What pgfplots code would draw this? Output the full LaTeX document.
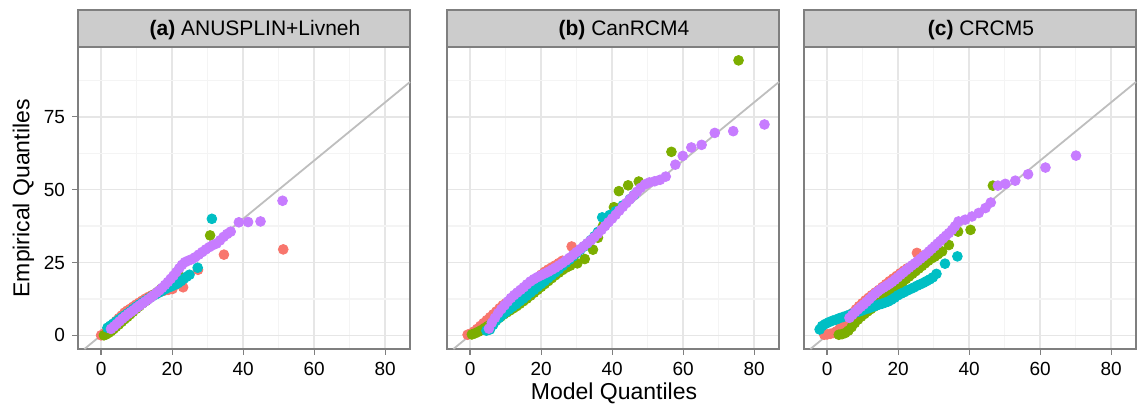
\documentclass[border=0pt]{standalone}
\usepackage{pgfplots}
\pgfplotsset{compat=1.18}
\usepackage{fontspec}
\setmainfont{Liberation Sans}

\definecolor{cr}{HTML}{F8766D}
\definecolor{cg}{HTML}{7CAE00}
\definecolor{cc}{HTML}{00BFC4}
\definecolor{cp}{HTML}{C77CFF}
\definecolor{grey50}{HTML}{7F7F7F}
\definecolor{grey80}{HTML}{CCCCCC}
\definecolor{gmaj}{HTML}{E6E6E6}
\definecolor{gmin}{HTML}{F4F4F4}
\definecolor{abline}{HTML}{BEBEBE}

\pgfplotsset{
  facet/.style={
    anchor=south west, scale only axis,
    width=166pt, height=151pt,
    xmin=-6.5, xmax=87, ymin=-4.7, ymax=99,
    xtick={0,20,40,60,80}, ytick={0,25,50,75},
    minor xtick={10,30,50,70}, minor ytick={12.5,37.5,62.5,87.5},
    grid=both,
    major grid style={gmaj, line width=0.7pt},
    minor grid style={gmin, line width=0.6pt},
    axis line style={grey50, line width=0.7pt},
    tick align=outside, xtick pos=left, ytick pos=left,
    major tick length=3pt, minor tick length=0pt,
    tick style={grey50, line width=0.6pt},
    tick label style={font=\fontsize{9.5}{10}\selectfont, black},
    /pgf/number format/assume math mode=true,
    clip=false,
  },
  pts/.style={only marks, mark=*, mark size=2.45pt, color=#1,
    mark options={draw=none, fill=#1}},
  diag/.style={no marks, color=abline, line width=0.9pt},
}

\begin{document}
\begin{tikzpicture}
\useasboundingbox (0,0) rectangle (568.5pt,203.5pt);

% (a) ANUSPLIN+Livneh
\begin{axis}[facet, at={(39pt,29pt)}]
\addplot[pts=cr] coordinates {(0,0) (0.8,0.6) (1.6,1.5) (2.5,2.6) (3.3,3.7) (4.2,4.9) (5,5.9) (5.8,6.8) (6.6,7.8) (7.4,8.5) (8.2,9.1) (9,9.8) (9.8,10.5) (10.7,11.2) (11.6,11.9) (12.5,12.6) (13.4,13.2) (14.4,13.8) (15.4,14.3) (16.5,14.8) (17.7,15.3) (18.9,15.6) (20.1,15.9) (23.1,16.5) (27.3,22.5) (34.6,27.7) (51.3,29.5)};
\addplot[pts=cg] coordinates {(0.8,0) (1.4,0.3) (2.1,0.8) (2.8,1.4) (3.5,2.1) (4.2,2.9) (5,3.7) (5.8,4.6) (6.6,5.5) (7.4,6.3) (8.2,7.2) (9,8.1) (9.9,9.1) (10.8,10) (11.7,11) (12.7,11.9) (13.7,12.9) (14.8,13.9) (15.9,14.9) (17,16) (18.2,17.1) (19.4,18.2) (20.7,19.3) (22,20.3) (30.7,34.3)};
\addplot[pts=cc] coordinates {(1.8,2.6) (2.6,3.3) (3.4,4) (4.2,4.7) (5,5.4) (5.8,6.1) (6.6,6.8) (7.4,7.5) (8.2,8.2) (9,9) (9.9,9.8) (10.8,10.6) (11.7,11.3) (12.6,12) (13.5,12.7) (14.4,13.4) (15.3,14) (16.2,14.6) (17.1,15.2) (18,15.8) (19,16.4) (20,16.9) (20.9,17.4) (21.7,17.9) (22.5,18.6) (23.3,19.4) (24.1,20.1) (24.9,20.8) (27.2,23.2) (31.2,40)};
\addplot[pts=cp] coordinates {(2.8,2.2) (3.6,3) (4.4,3.9) (5.2,4.8) (6,5.7) (6.8,6.5) (7.6,7.3) (8.4,8) (9.2,8.7) (10,9.5) (10.8,10.2) (11.6,10.9) (12.4,11.6) (13.2,12.3) (14,13) (14.8,13.8) (15.6,14.6) (16.4,15.4) (17.2,16.3) (18,17.3) (18.8,18.3) (19.6,19.4) (20.4,20.5) (21.2,21.7) (22,23) (22.8,24.2) (23.6,25.1) (24.5,25.6) (25.5,26.1) (26.5,26.8) (27.5,27.7) (28.5,28.6) (29.5,29.5) (30.5,30.3) (31.5,31) (32.5,31.5) (33.5,32.6) (34.5,33.8) (35.5,34.8) (36.5,35.6) (38.8,38.8) (41.4,38.9) (44.9,39.1) (51.1,46.2)};
\addplot[diag] coordinates {(-4.7,-4.7) (87,87)};
\end{axis}

% (b) CanRCM4
\begin{axis}[facet, at={(223.5pt,29pt)}, yticklabels={}, ytick style={draw=none}]
\addplot[pts=cr] coordinates {(-0.7,0.2) (0.2,0.6) (1.1,1.3) (2,2.2) (2.9,3.2) (3.8,4.2) (4.7,5.2) (5.6,6.2) (6.5,7.2) (7.4,8.2) (8.3,9.3) (9.2,10.3) (10.1,11) (11,11.7) (12,12.5) (13,13.4) (14,14.4) (15,15.4) (16,16.4) (17,17.5) (18,18.6) (19,19.7) (20,20.8) (21,21.8) (22,22.6) (23,23.3) (24,24) (25,24.8) (26,25.6) (28.6,30.5)};
\addplot[pts=cg] coordinates {(0.5,0.3) (1.4,0.7) (2.3,1.2) (3.2,1.8) (4.1,2.5) (5,3.2) (5.9,4) (6.8,4.8) (7.7,5.6) (8.6,6.4) (9.5,7.2) (10.4,7.9) (11.3,8.6) (12.2,9.3) (13.1,10) (14,10.8) (15,11.7) (16,12.6) (17,13.6) (18,14.6) (19,15.6) (20,16.6) (21,17.6) (22,18.6) (23,19.6) (24,20.6) (25,21.5) (26,22.4) (27,23.2) (28.2,23.9) (30.2,24.7) (32.3,26.2) (34.6,29.4) (36,33.5) (37.4,37.5) (39,40.5) (40.5,44) (41.9,49.5) (44.5,51.5) (47.5,52.8) (56.7,63) (75.6,94.4)};
\addplot[pts=cc] coordinates {(4.6,1.6) (5.6,2) (6.5,3.6) (7.3,5) (8.2,6) (9.1,7) (10,7.9) (11,8.9) (12,9.8) (13,10.7) (14,11.7) (15,12.6) (16,13.6) (17,14.6) (18,15.6) (19,16.6) (20,17.6) (21,18.6) (22,19.6) (23,20.6) (24,21.6) (25,22.7) (26,23.8) (27,24.9) (28,26) (29,27.1) (30,28.2) (31,29.3) (32,30.4) (33,31.5) (34,32.7) (35,34) (36,35.5) (37.2,40.5) (39.3,41.3) (41,42.6) (43,44.6) (45,46.8) (46.2,48.2)};
\addplot[pts=cp] coordinates {(5.3,2.3) (6.1,4.3) (7,6) (7.9,7.6) (8.8,9) (9.7,10.3) (10.6,11.6) (11.5,12.8) (12.4,13.8) (13.3,14.7) (14.2,15.6) (15.1,16.5) (16,17.5) (17,18.5) (18,19.3) (19,20) (20,20.6) (21,21.2) (22,21.8) (23,22.5) (24,23.2) (25,24) (26,24.8) (27,25.7) (28,26.6) (29,27.6) (30,28.6) (31,29.6) (32,30.6) (33,31.6) (34,32.6) (35,33.7) (36,34.9) (37,36.2) (38,37.5) (39,38.8) (40,40.1) (41,41.4) (42,42.8) (43,44.1) (44,45.4) (45,46.7) (46,48) (47,49.3) (48,50.6) (49.2,51.8) (50.5,52.5) (52,52.9) (53.5,53.4) (55.1,54.5) (57.8,58.6) (59.9,61.6) (62.3,64.5) (65.2,65.4) (68.9,69.5) (74.1,70.1) (82.9,72.4)};
\addplot[diag] coordinates {(-4.7,-4.7) (87,87)};
\end{axis}

% (c) CRCM5
\begin{axis}[facet, at={(402pt,29pt)}, yticklabels={}, ytick style={draw=none}]
\addplot[pts=cr] coordinates {(-0.8,0.2) (0,0.3) (0.9,0.5) (1.8,0.8) (2.7,1.4) (3.6,2.4) (4.5,3.8) (5.4,5.2) (6.3,6.5) (7.2,7.7) (8.1,8.9) (9,10) (9.9,11) (10.8,12) (11.7,12.9) (12.6,13.8) (13.6,14.7) (14.6,15.6) (15.6,16.6) (16.6,17.6) (17.6,18.6) (18.6,19.5) (19.6,20.4) (20.6,21.3) (21.6,22.2) (22.6,23) (25.3,28.3)};
\addplot[pts=cg] coordinates {(3.3,0.2) (4.2,0.4) (5.1,0.8) (6,1.6) (6.9,2.8) (7.8,4.2) (8.7,5.4) (9.6,6.4) (10.5,7.3) (11.4,8.2) (12.3,9) (13.2,9.8) (14.1,10.6) (15,11.4) (15.9,12.3) (16.8,13.3) (17.7,14.3) (18.6,15.3) (19.5,16.3) (20.4,17.3) (21.3,18.3) (22.2,19.3) (23.1,20.2) (24,21.1) (24.9,22) (25.8,22.9) (26.7,23.8) (27.6,24.7) (28.5,25.6) (29.4,26.4) (30.3,27) (31.2,27.8) (32.4,28.8) (34.3,31) (36.9,35.6) (40.4,36.2) (46.7,51.4)};
\addplot[pts=cc] coordinates {(-2.1,2) (-1.4,3.2) (-0.5,3.9) (0.5,4.5) (1.5,5) (2.5,5.4) (3.5,5.9) (4.5,6.3) (5.5,6.7) (6.4,7.1) (7.3,7.5) (8.2,7.9) (9.1,8.2) (10,8.6) (10.9,9) (11.8,9.3) (12.7,9.7) (13.6,10.1) (14.5,10.5) (15.4,10.8) (16.3,11.2) (17.2,11.6) (18.1,12.2) (19,12.9) (19.9,13.7) (20.8,14.3) (21.7,14.8) (22.6,15.4) (23.5,15.9) (24.4,16.4) (25.3,17) (26.2,17.5) (27.1,18) (28,18.6) (28.9,19.2) (29.8,19.9) (30.8,21.1) (33.2,24.6) (36.7,27.1)};
\addplot[pts=cp] coordinates {(6.3,6) (7.1,7) (7.9,8) (8.7,8.9) (9.5,9.8) (10.3,10.6) (11.1,11.5) (11.9,12.4) (12.7,13.4) (13.5,14.3) (14.3,15.1) (15.1,15.8) (15.9,16.4) (16.7,17) (17.5,17.6) (18.3,18.3) (19.1,19.1) (19.9,19.9) (20.7,20.8) (21.5,21.6) (22.3,22.4) (23.1,23.2) (23.9,24) (24.7,24.7) (25.5,25.5) (26.3,26.3) (27.1,27.1) (27.9,27.9) (28.7,28.8) (29.5,29.7) (30.3,30.6) (31.1,31.5) (31.9,32.4) (32.7,33.3) (33.5,34.2) (34.3,35.1) (35.2,36.2) (36,37.4) (37,39.1) (38.9,39.7) (40.8,40.8) (42.7,42) (44.6,43.7) (46.1,45.6) (48.1,51.4) (50.2,52) (53,53.1) (56.6,55.3) (61.5,57.6) (70.1,61.7)};
\addplot[diag] coordinates {(-4.7,-4.7) (87,87)};
\end{axis}

% facet strips
\begin{scope}[every node/.style={font=\fontsize{10.5}{12}\selectfont, anchor=base}]
\draw[fill=grey80, draw=grey50, line width=0.7pt] (39pt,180pt) rectangle (205pt,198.5pt);
\node at (127.5pt,185.5pt) {\textbf{(a)} ANUSPLIN+Livneh};
\draw[fill=grey80, draw=grey50, line width=0.7pt] (223.5pt,180pt) rectangle (389.5pt,198.5pt);
\node at (312pt,185.5pt) {\textbf{(b)} CanRCM4};
\draw[fill=grey80, draw=grey50, line width=0.7pt] (402pt,180pt) rectangle (568pt,198.5pt);
\node at (490.5pt,185.5pt) {\textbf{(c)} CRCM5};
\end{scope}

% axis titles
\node[font=\fontsize{11.5}{13}\selectfont, anchor=base] at (307pt,3.5pt) {Model Quantiles};
\node[font=\fontsize{11.5}{13}\selectfont, anchor=base, rotate=90] at (14.7pt,104.3pt) {Empirical Quantiles};
\end{tikzpicture}
\end{document}
